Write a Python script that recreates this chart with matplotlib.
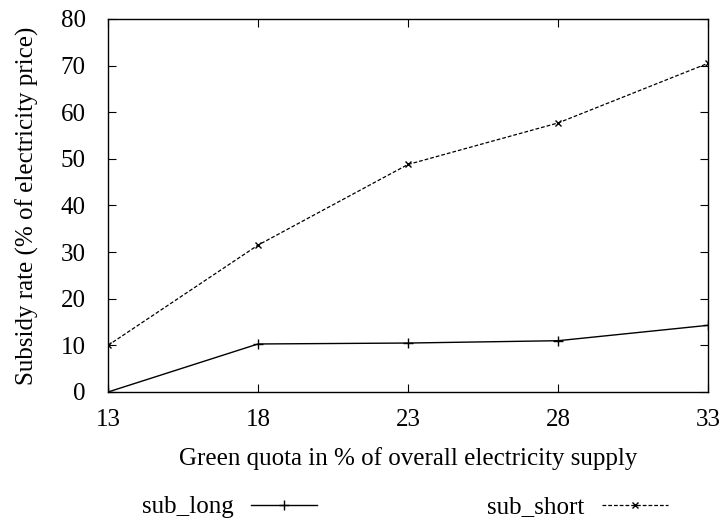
import matplotlib
matplotlib.use("Agg")

import matplotlib.pyplot as plt

# green quota (%) on x, subsidy rate (% of electricity price) on y
quota = [13, 18, 23, 28, 33]
sub_long = [0.0, 10.3, 10.5, 11.0, 14.3]
sub_short = [10.0, 31.5, 48.8, 57.7, 70.5]
yticks = [0, 10, 20, 30, 40, 50, 60, 70, 80]

plt.rcParams["font.family"] = ["Liberation Serif", "DejaVu Serif"]
plt.rcParams["font.size"] = 18

fig = plt.figure(figsize=(7.23, 5.21), dpi=100)
ax = fig.add_axes([108 / 723, 1 - 392 / 521, 600 / 723, 373 / 521])

l1, = ax.plot(quota, sub_long, color="black", linewidth=1.0, marker="+",
              markersize=7, markeredgewidth=1.0, label="sub_long")
l2, = ax.plot(quota, sub_short, color="black", linewidth=0.9, linestyle=(0, (3, 1.6)),
              marker="x", markersize=5, markeredgewidth=1.0, label="sub_short")

ax.set_xlim(13, 33)
ax.set_ylim(0, 80)
ax.set_xticks(quota)
ax.set_yticks(yticks)
ax.tick_params(direction="in", top=True, right=True, length=6, width=0.8)
ax.tick_params(axis="x", pad=12)
ax.tick_params(axis="y", pad=16)
for s in ax.spines.values():
    s.set_linewidth(1.0)

ax.set_xlabel("Green quota in % of overall electricity supply", labelpad=12)
ax.set_ylabel("Subsidy rate (% of electricity price)", labelpad=16)

fig.legend(handles=[l1, l2], loc="center", bbox_to_anchor=(405 / 723, 1 - 507 / 521),
           ncol=2, frameon=False, markerfirst=False, numpoints=1,
           handlelength=2.65, handletextpad=0.7, columnspacing=6.8)

fig.savefig("out.png", dpi=100)
